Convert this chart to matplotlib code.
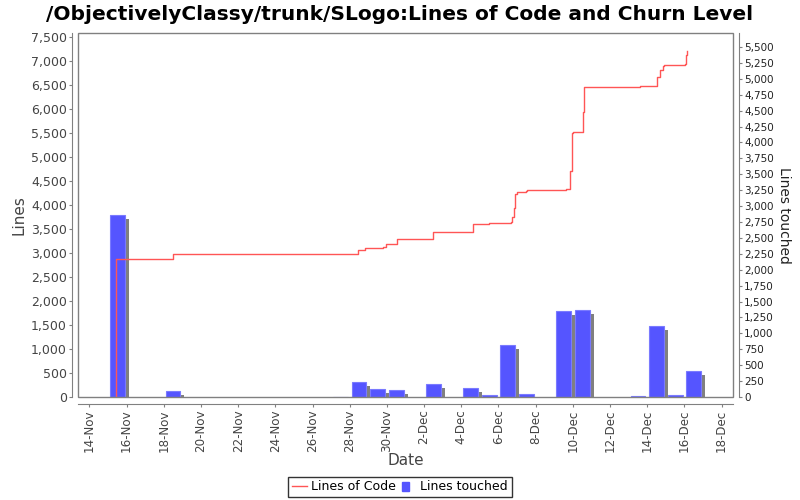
import datetime as dt
import matplotlib
matplotlib.use("Agg")
import matplotlib.pyplot as plt
from matplotlib.transforms import ScaledTranslation
from matplotlib.lines import Line2D
from matplotlib.patches import Rectangle

# lines of code (step series)
loc_times = ["2010-11-15 10:26", "2010-11-15 10:26", "2010-11-18 12:23", "2010-11-28 11:03",
             "2010-11-28 19:45", "2010-11-29 18:30", "2010-11-29 22:50", "2010-11-30 12:40",
             "2010-12-02 11:50", "2010-12-04 15:30", "2010-12-05 12:15", "2010-12-06 15:50",
             "2010-12-06 17:50", "2010-12-06 20:25", "2010-12-06 21:40", "2010-12-06 23:30",
             "2010-12-07 11:05", "2010-12-07 12:30", "2010-12-09 14:40", "2010-12-09 20:40",
             "2010-12-09 22:30", "2010-12-09 23:50", "2010-12-10 13:25", "2010-12-10 14:40",
             "2010-12-10 16:00", "2010-12-13 15:00", "2010-12-14 13:00", "2010-12-14 16:50",
             "2010-12-14 19:55", "2010-12-14 21:50", "2010-12-16 00:45", "2010-12-16 01:30",
             "2010-12-16 02:50"]
loc_values = [0, 2869, 2979, 3062, 3097, 3118, 3181, 3285, 3440, 3597, 3618, 3652,
              3756, 3930, 4222, 4264, 4285, 4312, 4326, 4701, 5493, 5521, 5938, 6451,
              6465, 6472, 6660, 6806, 6896, 6917, 6938, 7131, 7215]

# lines touched per day
churn_days = ["2010-11-15", "2010-11-18", "2010-11-27", "2010-11-28", "2010-11-29", "2010-11-30",
              "2010-12-02", "2010-12-04", "2010-12-05", "2010-12-06", "2010-12-07", "2010-12-09",
              "2010-12-10", "2010-12-13", "2010-12-14", "2010-12-15", "2010-12-16"]
churn_values = [2862, 100, 3, 236, 126, 110, 204, 141, 35, 822, 50, 1352, 1368, 20, 1116, 25, 409]

t_loc = [dt.datetime.strptime(s, "%Y-%m-%d %H:%M") for s in loc_times]
t_churn = [dt.datetime.strptime(s, "%Y-%m-%d") + dt.timedelta(hours=12) for s in churn_days]

grey = "#808080"
fig = plt.figure(figsize=(8, 5), dpi=100)
ax = fig.add_axes([78 / 800, 1 - 397 / 500, (733 - 78) / 800, (397 - 33.3) / 500])
ax2 = ax.twinx()
ax.set_zorder(ax2.get_zorder() + 1)
ax.patch.set_visible(False)

# bars with 3d-ish shadow
shadow = ax2.transData + ScaledTranslation(0.04, -0.04, fig.dpi_scale_trans)
ax2.bar(t_churn, churn_values, width=0.8, color=grey, transform=shadow, zorder=1)
ax2.bar(t_churn, churn_values, width=0.8, color="#5555ff", edgecolor="#7a7aff",
        linewidth=0.8, zorder=2)

ax.step(t_loc, loc_values, where="post", color="#ff5555", lw=1)

ax.set_xlim(dt.datetime(2010, 11, 13, 9, 20), dt.datetime(2010, 12, 18, 14, 40))
ax.set_ylim(0, 7577)
ax2.set_ylim(0, 5715)
ax.set_yticks(range(0, 7501, 500))
ax2.set_yticks(range(0, 5501, 250))
ax.yaxis.set_major_formatter(matplotlib.ticker.StrMethodFormatter("{x:,.0f}"))
ax2.yaxis.set_major_formatter(matplotlib.ticker.StrMethodFormatter("{x:,.0f}"))

ticks = [dt.datetime(2010, 11, 14) + dt.timedelta(days=2 * i) for i in range(18)]
ax.set_xticks(ticks)
ax.set_xticklabels([f"{d.day}-{d.strftime('%b')}" for d in ticks])

for a in (ax, ax2):
    for s in a.spines.values():
        s.set_visible(False)
ax.spines["left"].set_visible(True)
ax.spines["left"].set_position(("outward", 4))
ax.spines["bottom"].set_visible(True)
ax.spines["bottom"].set_position(("outward", 5))
ax2.spines["right"].set_visible(True)
ax2.spines["right"].set_position(("outward", 4))
for s in (ax.spines["left"], ax.spines["bottom"], ax2.spines["right"]):
    s.set_color(grey)
ax.add_patch(Rectangle((0, 0), 1, 1, transform=ax.transAxes, fill=False,
                       edgecolor=grey, lw=1, clip_on=False, zorder=5))

ax.tick_params(axis="y", length=2, color=grey, labelsize=9, labelcolor="#444444", pad=2)
ax.tick_params(axis="x", length=2, color=grey, labelsize=8.6, labelcolor="#444444",
               pad=2, labelrotation=90)
ax2.tick_params(axis="y", length=2, color=grey, labelsize=7.5, labelcolor="#222222", pad=2)

ax.set_ylabel("Lines", fontsize=11, color="#444444", labelpad=3)
ax.set_xlabel("Date", fontsize=11, color="#444444")
ax.xaxis.set_label_coords(0.5, -0.155)
ax2.set_ylabel("Lines touched", fontsize=10, color="#222222", rotation=270, labelpad=12)

fig.text(0.5, 1 - 14 / 500, "/ObjectivelyClassy/trunk/SLogo:Lines of Code and Churn Level",
         ha="center", va="center", fontsize=14.5, fontweight="bold")

handles = [Line2D([0], [0], color="#ff5555", lw=1),
           Rectangle((0, 0), 1, 1, color="#5555ff")]
leg = fig.legend(handles, ["Lines of Code", "Lines touched"], loc="center",
                 bbox_to_anchor=(0.5, 1 - 487 / 500), ncol=2, fontsize=9,
                 frameon=True, fancybox=False, edgecolor="black", handlelength=1.2,
                 handletextpad=0.3, columnspacing=0.5, borderpad=0.3)
leg.get_frame().set_linewidth(1)
leg.legend_handles[1].set_width(5)

fig.savefig("out.png", dpi=100)
